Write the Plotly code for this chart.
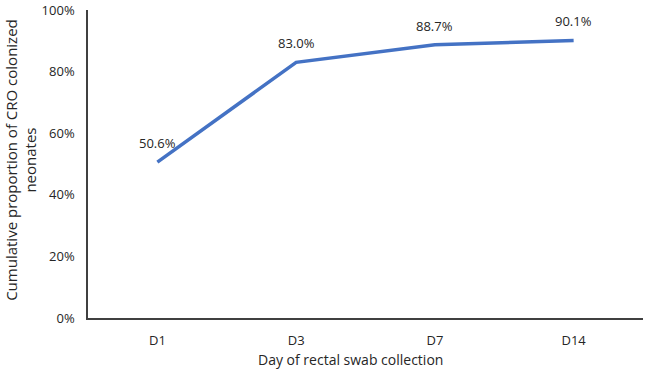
import plotly.graph_objects as go

days = ["D1", "D3", "D7", "D14"]
proportions = [0.506, 0.830, 0.887, 0.901]
labels = ["50.6%", "83.0%", "88.7%", "90.1%"]

fig = go.Figure()
fig.add_trace(go.Scatter(
    x=days, y=proportions, mode="lines",
    line=dict(color="#4472C4", width=3.5),
    showlegend=False,
))
for d, p, t in zip(days, proportions, labels):
    fig.add_annotation(x=d, y=p, text=t, showarrow=False, yshift=19,
                       font=dict(size=13, color="#262626"))

# axis titles
fig.add_annotation(xref="paper", yref="paper", x=-0.121, y=0.513,
                   xanchor="center", yanchor="middle",
                   text="Cumulative proportion of CRO colonized<br>neonates",
                   textangle=-90, showarrow=False,
                   font=dict(size=15, color="#262626"))
fig.add_annotation(xref="paper", yref="paper", x=0.473, y=-0.136,
                   xanchor="center", yanchor="middle",
                   text="Day of rectal swab collection", showarrow=False,
                   font=dict(size=14, color="#262626"))

fig.update_layout(
    width=650, height=369,
    margin=dict(l=88, r=7, t=10, b=51),
    paper_bgcolor="white", plot_bgcolor="white",
    font=dict(family="Open Sans, Liberation Sans, sans-serif", color="#404040", size=13),
    xaxis=dict(
        type="category", range=[-0.5, 3.5], automargin=False,
        showline=True, linecolor="#404040", linewidth=1.5,
        showgrid=False, ticks="", tickfont=dict(size=13, color="#262626"),
        ticklabelstandoff=10,
    ),
    yaxis=dict(
        range=[0, 1], tickvals=[0, 0.2, 0.4, 0.6, 0.8, 1.0], tickformat=".0%",
        automargin=False,
        showline=True, linecolor="#404040", linewidth=1.5,
        showgrid=False, zeroline=False, ticks="", tickfont=dict(size=13, color="#262626"),
        ticklabelstandoff=9,
    ),
)
fig.write_html("out.html")
